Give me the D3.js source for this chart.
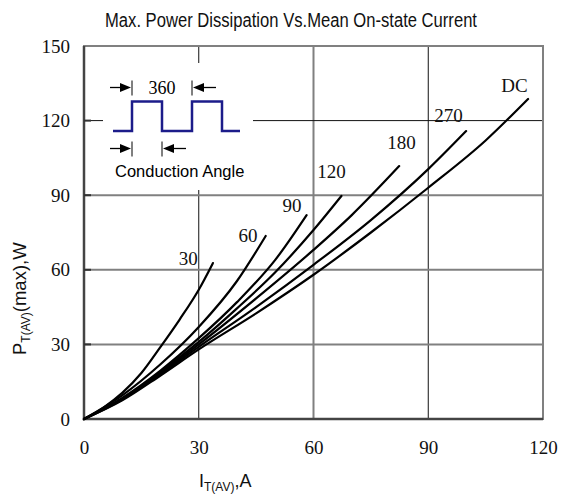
<!DOCTYPE html>
<html>
<head>
<meta charset="utf-8">
<script src="https://cdn.jsdelivr.net/npm/d3@7"></script>
<style>
  html, body { margin: 0; padding: 0; background: #fff; }
  svg { display: block; }
</style>
</head>
<body>
<svg id="chart" width="561" height="495"></svg>
<script>
// ---- data ----
const xTicks = [0, 30, 60, 90, 120];
const yTicks = [0, 30, 60, 90, 120, 150];
const curveNames = ["30", "60", "90", "120", "180", "270", "DC"];
const c30  = [[0,0],[5,4.5],[10,10.5],[15,18.5],[20,29],[25,40],[30,52],[33.7,62.7]];
const c60  = [[0,0],[10,9.5],[20,22],[30,37],[40,55.5],[47.5,73.6]];
const c90  = [[0,0],[10,8.5],[20,19.5],[30,32.5],[40,47],[50,64],[58.2,82]];
const c120 = [[0,0],[10,8],[20,19],[30,31],[40,44.5],[50,59],[60,76],[67.3,89.7]];
const c180 = [[0,0],[10,8],[20,18.5],[30,30],[45,48.5],[60,68],[70,82],[82.4,101.7]];
const c270 = [[0,0],[10,7.8],[20,18],[30,29],[45,45],[60,62],[75,80],[90,100.5],[99.9,115.8]];
const cDC  = [[0,0],[10,7.5],[20,17.5],[30,28],[45,42.5],[60,58],[75,75],[90,93],[105,112],[116.1,128.7]];
const curveData = [c30, c60, c90, c120, c180, c270, cDC];
// label anchor points in data units (start x, baseline y)
const labelPos = [[24.8,61.9],[40.4,71.2],[51.9,83.2],[61.0,96.9],[79.3,108.6],[91.6,119.6],[109.1,131.5]];

// ---- layout ----
const svg = d3.select("#chart");
const x = d3.scaleLinear().domain([0, 120]).range([84, 543]);
const y = d3.scaleLinear().domain([0, 150]).range([419, 46]);
const serif = "'Liberation Serif', 'DejaVu Serif', serif";
const sans = "'Liberation Sans', Arial, sans-serif";

// title
svg.append("text")
  .attr("x", 105).attr("y", 27)
  .attr("textLength", 372).attr("lengthAdjust", "spacingAndGlyphs")
  .style("font-family", "'Liberation Sans Narrow', 'Liberation Sans', Arial, sans-serif")
  .style("font-size", "19.5px").attr("fill", "#111")
  .text("Max. Power Dissipation Vs.Mean On-state Current");

// grid
const grid = svg.append("g");
[30, 60, 90].forEach(v => {
  grid.append("line")
    .attr("x1", x(v)).attr("x2", x(v)).attr("y1", y(0)).attr("y2", y(150))
    .attr("stroke", v === 60 ? "#808080" : "#111")
    .attr("stroke-width", v === 60 ? 2 : 1);
});
[30, 60, 90, 120].forEach(v => {
  grid.append("line")
    .attr("x1", x(0)).attr("x2", x(120)).attr("y1", y(v)).attr("y2", y(v))
    .attr("stroke", v === 120 ? "#111" : "#808080")
    .attr("stroke-width", v === 120 ? 1 : 2);
});

// inset (white box hides grid)
const inset = svg.append("g");
inset.append("rect").attr("x", 103).attr("y", 63).attr("width", 150).attr("height", 127).attr("fill", "#fff");
const navy = "#1c1c8a";
const wave = [[113,131],[132,131],[132,101.5],[162,101.5],[162,131],[192,131],[192,101.5],[222,101.5],[222,131],[240,131]];
inset.append("path")
  .attr("d", d3.line()(wave))
  .attr("fill", "none").attr("stroke", navy).attr("stroke-width", 2.5);

function arrow(xFrom, xTo, yy) {
  const dir = Math.sign(xTo - xFrom);
  inset.append("line").attr("x1", xFrom).attr("x2", xTo - dir * 8).attr("y1", yy).attr("y2", yy)
    .attr("stroke", "#000").attr("stroke-width", 1.3);
  inset.append("path")
    .attr("d", `M${xTo},${yy} L${xTo - dir * 11},${yy - 4.5} L${xTo - dir * 11},${yy + 4.5} Z`)
    .attr("fill", "#000");
}
function bar(xx, yy) {
  inset.append("line").attr("x1", xx).attr("x2", xx).attr("y1", yy - 7).attr("y2", yy + 8)
    .attr("stroke", "#000").attr("stroke-width", 1);
}
arrow(110, 131, 87.5); bar(132, 87.5);
arrow(216, 193, 87.5); bar(192, 87.5);
arrow(110, 131, 148.5); bar(132, 148.5);
arrow(186, 163, 148.5); bar(162, 148.5);
inset.append("text").attr("x", 162).attr("y", 94).attr("text-anchor", "middle")
  .style("font-family", serif).style("font-size", "18px").text("360");
inset.append("text").attr("x", 115).attr("y", 177)
  .style("font-family", sans).style("font-size", "16.5px").text("Conduction Angle");

// frame
svg.append("rect").attr("x", x(0)).attr("y", y(150)).attr("width", x(120) - x(0)).attr("height", y(0) - y(150))
  .attr("fill", "none").attr("stroke", "#808080").attr("stroke-width", 2);
svg.append("path")
  .attr("d", `M${x(0)},${y(150)} L${x(0)},${y(0)} L${x(120)},${y(0)}`)
  .attr("fill", "none").attr("stroke", "#444").attr("stroke-width", 2.5);

// axes
const yAxis = svg.append("g").attr("transform", `translate(${x(0)},0)`)
  .call(d3.axisLeft(y).tickValues(yTicks).tickSize(0).tickPadding(14).tickFormat(d3.format("d")));
const xAxis = svg.append("g").attr("transform", `translate(0,${y(0)})`)
  .call(d3.axisBottom(x).tickValues(xTicks).tickSize(0).tickPadding(22).tickFormat(d3.format("d")));
[yAxis, xAxis].forEach(g => {
  g.select(".domain").remove();
  g.selectAll("text").style("font-family", serif).style("font-size", "19px").attr("fill", "#111");
});
// small inner ticks
yTicks.slice(1, -1).forEach(v => {
  svg.append("line").attr("x1", x(0)).attr("x2", x(0) + 7).attr("y1", y(v)).attr("y2", y(v))
    .attr("stroke", "#333").attr("stroke-width", 2);
});

// curves
const line = d3.line().x(d => x(d[0])).y(d => y(d[1])).curve(d3.curveMonotoneX);
svg.append("g").selectAll("path").data(curveData).join("path")
  .attr("d", line).attr("fill", "none").attr("stroke", "#000").attr("stroke-width", 2.2)
  .attr("stroke-linecap", "round");

svg.append("g").selectAll("text").data(curveNames).join("text")
  .attr("x", (d, i) => x(labelPos[i][0]))
  .attr("y", (d, i) => y(labelPos[i][1]))
  .style("font-family", serif).style("font-size", "19px").attr("fill", "#111")
  .text(d => d);

// axis titles
const xt = svg.append("text").attr("x", 199).attr("y", 487)
  .style("font-family", sans).style("font-size", "18px").attr("fill", "#111");
xt.append("tspan").text("I");
xt.append("tspan").attr("dy", 4).style("font-size", "12px").text("T(AV)");
xt.append("tspan").attr("dy", -4).text(",A");

const yt = svg.append("text")
  .attr("transform", "translate(26,355) rotate(-90)")
  .style("font-family", sans).style("font-size", "18.5px").attr("fill", "#111");
yt.append("tspan").text("P");
yt.append("tspan").attr("dy", 4).style("font-size", "12px").text("T(AV)");
yt.append("tspan").attr("dy", -4).text("(max),W");
</script>
</body>
</html>
